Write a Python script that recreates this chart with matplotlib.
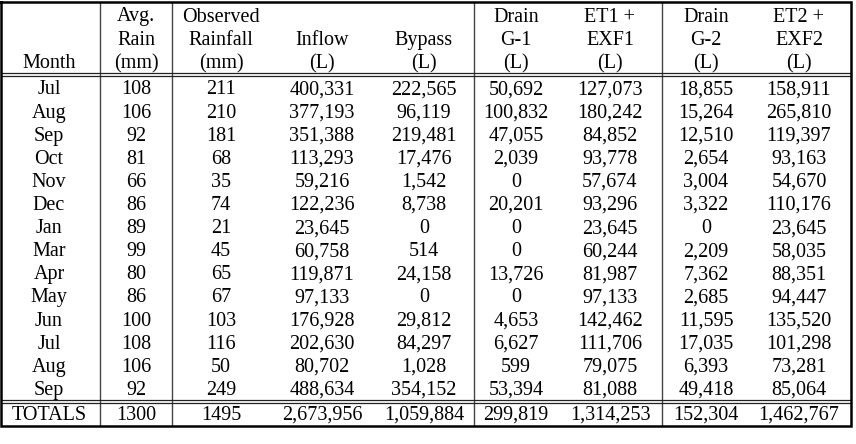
import matplotlib
matplotlib.use("Agg")
import matplotlib.pyplot as plt

months = ["Jul", "Aug", "Sep", "Oct", "Nov", "Dec", "Jan", "Mar", "Apr", "May", "Jun", "Jul", "Aug", "Sep"]
avg_rain = [108, 106, 92, 81, 66, 86, 89, 99, 80, 86, 100, 108, 106, 92]
observed = [211, 210, 181, 68, 35, 74, 21, 45, 65, 67, 103, 116, 50, 249]
inflow = [400331, 377193, 351388, 113293, 59216, 122236, 23645, 60758, 119871, 97133, 176928, 202630, 80702, 488634]
bypass = [222565, 96119, 219481, 17476, 1542, 8738, 0, 514, 24158, 0, 29812, 84297, 1028, 354152]
drain_g1 = [50692, 100832, 47055, 2039, 0, 20201, 0, 0, 13726, 0, 4653, 6627, 599, 53394]
et1_exf1 = [127073, 180242, 84852, 93778, 57674, 93296, 23645, 60244, 81987, 97133, 142462, 111706, 79075, 81088]
drain_g2 = [18855, 15264, 12510, 2654, 3004, 3322, 0, 2209, 7362, 2685, 11595, 17035, 6393, 49418]
et2_exf2 = [158911, 265810, 119397, 93163, 54670, 110176, 23645, 58035, 88351, 94447, 135520, 101298, 73281, 85064]
totals = ["TOTALS", "1300", "1495", "2,673,956", "1,059,884", "299,819", "1,314,253", "152,304", "1,462,767"]

headers = [
    ["", "", "Month"],
    ["Avg.", "Rain", "(mm)"],
    ["Observed", "Rainfall", "(mm)"],
    ["", "Inflow", "(L)"],
    ["", "Bypass", "(L)"],
    ["Drain", "G-1", "(L)"],
    ["ET1 +", "EXF1", "(L)"],
    ["Drain", "G-2", "(L)"],
    ["ET2 +", "EXF2", "(L)"],
]

W, H = 856, 444
fig = plt.figure(figsize=(W / 100, H / 100), dpi=100)
ax = fig.add_axes([0, 0, 1, 1])
ax.set_xlim(0, W)
ax.set_ylim(H, 0)
ax.axis("off")

font = dict(family="Liberation Serif", fontsize=14.5, color="black")

col_x = [49, 136, 221, 322, 424, 516, 610, 706, 799]
off = 6.5  # center -> baseline
head_y = [15 + off, 38.5 + off, 62 + off]
row_y0, row_dy = 88 + off, 23.1
tot_y = 413.5 + off

for ci, hdr in enumerate(headers):
    for ri, t in enumerate(hdr):
        if t:
            ax.text(col_x[ci], head_y[ri], t, ha="center", va="baseline", **font)

cols = [months, avg_rain, observed, inflow, bypass, drain_g1, et1_exf1, drain_g2, et2_exf2]
for ci, col in enumerate(cols):
    for ri, v in enumerate(col):
        s = v if isinstance(v, str) else (f"{v:,}" if ci >= 3 else str(v))
        ax.text(col_x[ci], row_y0 + ri * row_dy, s, ha="center", va="baseline", **font)

for ci, t in enumerate(totals):
    ax.text(col_x[ci], tot_y, t, ha="center", va="baseline", **font)

left, right, top, bottom = 1.5, 851, 2, 426
# inner vertical lines
for x in [100, 172, 474, 662]:
    ax.plot([x, x], [top, bottom], color="#444444", lw=1.0, solid_capstyle="butt")
# double horizontal lines
for y in [73.3, 76.3, 400, 403]:
    ax.plot([left, right], [y, y], color="#222222", lw=0.9, solid_capstyle="butt")
# outer border
ax.plot([left, right, right, left, left], [top, top, bottom, bottom, top], color="black", lw=1.8,
        solid_joinstyle="miter")

fig.savefig("out.png", dpi=100, facecolor="white")
